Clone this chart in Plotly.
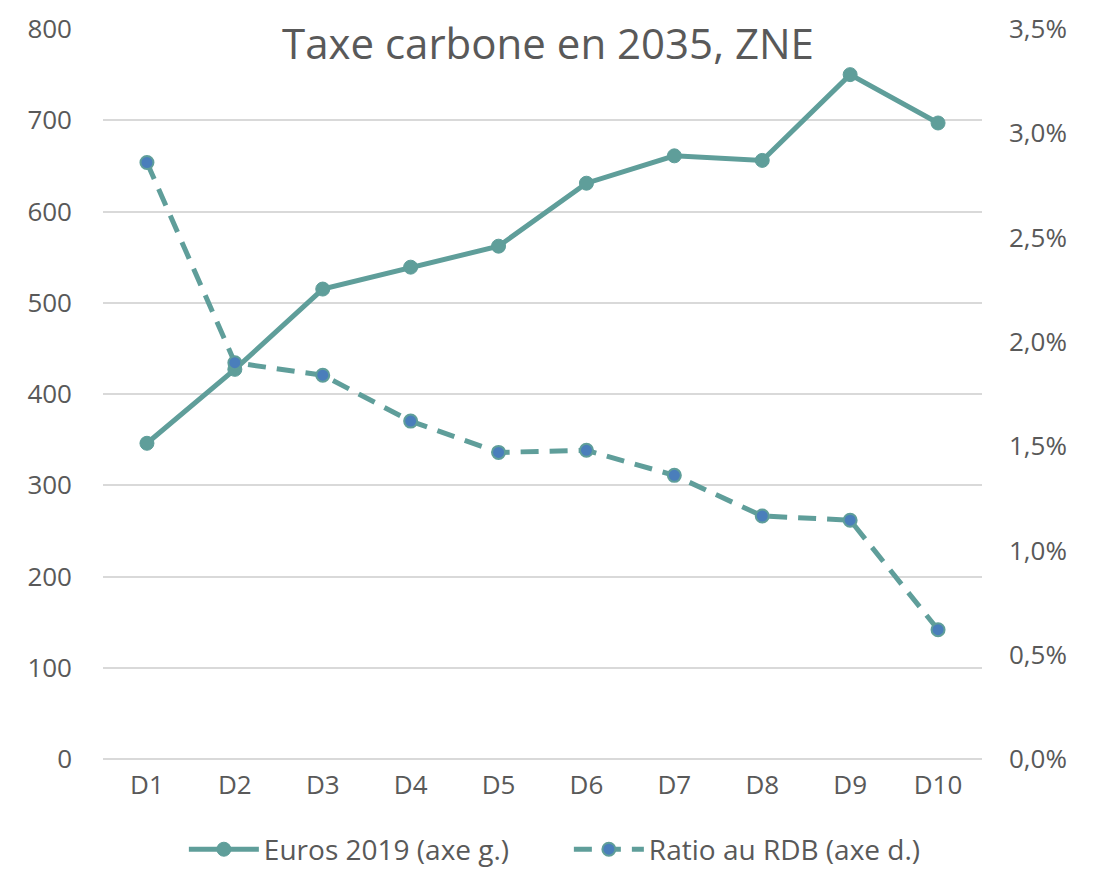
import plotly.graph_objects as go

categories = ["D1", "D2", "D3", "D4", "D5", "D6", "D7", "D8", "D9", "D10"]
euros = [346, 427, 515, 539, 562, 631, 661, 656, 750, 697]
ratio = [2.86, 1.90, 1.84, 1.62, 1.47, 1.48, 1.36, 1.165, 1.145, 0.62]
left_ticks = [0, 100, 200, 300, 400, 500, 600, 700, 800]
right_ticks = [0, 0.5, 1.0, 1.5, 2.0, 2.5, 3.0, 3.5]
right_labels = ["0,0%", "0,5%", "1,0%", "1,5%", "2,0%", "2,5%", "3,0%", "3,5%"]

teal = "#5F9E9A"
blue = "#4A7EBB"
font_family = "Open Sans"
text_color = "#595959"

fig = go.Figure()
fig.add_trace(go.Scatter(
    x=categories, y=euros, name="Euros 2019 (axe g.)", mode="lines+markers",
    line=dict(color=teal, width=5),
    marker=dict(color=teal, size=14, line=dict(color=teal, width=1)),
    yaxis="y",
))
fig.add_trace(go.Scatter(
    x=categories, y=ratio, name="Ratio au RDB (axe d.)", mode="lines+markers",
    line=dict(color=teal, width=5, dash="18px,11px"),
    marker=dict(color=blue, size=13, line=dict(color=teal, width=2)),
    yaxis="y2",
))

fig.update_layout(
    width=1102, height=871,
    paper_bgcolor="white", plot_bgcolor="white",
    separators=", ",
    font=dict(family=font_family, color=text_color, size=26),
    margin=dict(l=95, r=128, t=21, b=120, autoexpand=False),
    title=dict(text="Taxe carbone en 2035, ZNE", x=0.49, xanchor="center",
               y=0.958, yanchor="middle",
               font=dict(size=42, color=text_color, family=font_family)),
    xaxis=dict(type="category", showgrid=False, showline=False, ticks="",
               tickfont=dict(size=26), range=[-0.5, 9.5], ticklabelstandoff=8,
               automargin=False),
    yaxis=dict(range=[0, 800], tickvals=left_ticks, showgrid=True,
               gridcolor="#D9D9D9", gridwidth=1.5, zeroline=True,
               zerolinecolor="#D9D9D9", zerolinewidth=1.5, showline=False,
               ticks="", ticklabelstandoff=30, tickfont=dict(size=26),
               automargin=False),
    yaxis2=dict(range=[0, 3.5], tickvals=right_ticks, ticktext=right_labels,
                overlaying="y", side="right", showgrid=False, zeroline=False,
                showline=False, ticks="", ticklabelstandoff=26,
                tickfont=dict(size=26), automargin=False),
    legend=dict(orientation="h", x=0.53, xanchor="center", y=-0.124,
                yanchor="middle", font=dict(size=28), itemwidth=70,
                entrywidth=300, traceorder="normal"),
    showlegend=True,
)

fig.write_html("out.html")
